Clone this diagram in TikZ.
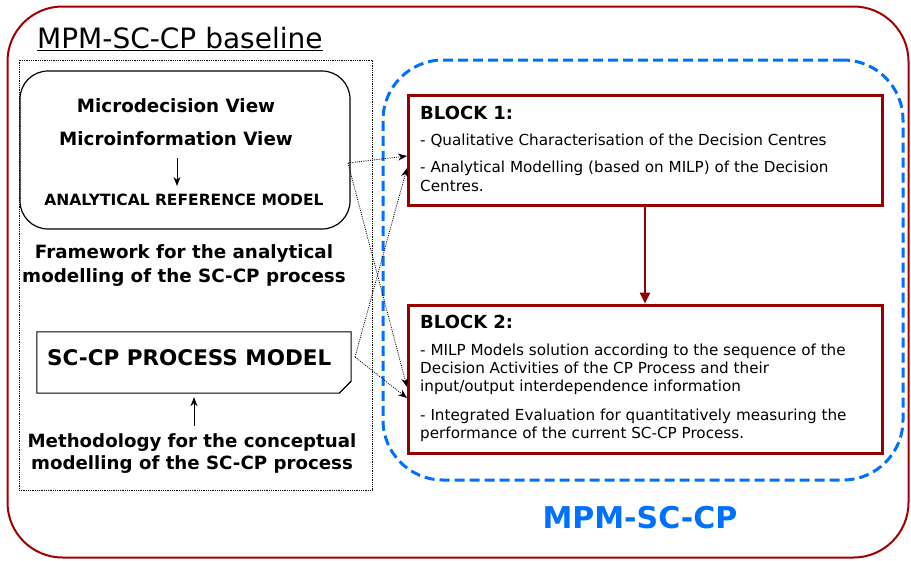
\documentclass[tikz,border=0pt]{standalone}
\usepackage{fontspec}
\setmainfont{DejaVu Sans}
\usetikzlibrary{arrows.meta, positioning}
\definecolor{framered}{RGB}{160,0,0}
\definecolor{blockred}{RGB}{150,0,0}
\definecolor{mpmblue}{RGB}{0,112,255}

\begin{document}
\begin{tikzpicture}[x=1pt, y=-1pt,
  every node/.style={inner sep=0pt},
  frame/.style={draw=framered, line width=2pt, rounded corners=55pt},
  panel/.style={draw, dash pattern=on 0.8pt off 1pt, line width=0.8pt},
  viewbox/.style={draw, line width=1.2pt, rounded corners=28pt},
  block/.style={draw=blockred, line width=3pt},
  heading/.style={font=\bfseries\fontsize{18.3}{24}\selectfont, align=center},
  blocktitle/.style={font=\bfseries\fontsize{18}{20}\selectfont, anchor=west},
  item/.style={font=\fontsize{15.2}{18}\selectfont, align=left, anchor=north west},
  arrow/.style={-{Stealth[length=9pt, width=7pt]}, line width=0.9pt},
  link/.style={-{Stealth[length=9pt, width=7pt]}, dash pattern=on 1pt off 1.2pt, line width=0.8pt},
  flow/.style={-{Triangle[length=11pt, width=10pt]}, draw=blockred, line width=2.5pt}
]
  \useasboundingbox (0,0) rectangle (911,560);

  % outer frame and left panel
  \node[frame, minimum width=901pt, minimum height=551pt] (outer) at (458,282) {};
  \node[anchor=west, font=\fontsize{28}{32}\selectfont] (title) at (37,39) {\underline{MPM-SC-CP baseline}};
  \node[panel, minimum width=353pt, minimum height=430pt] (baseline) at (195.5,275) {};

  % analytical reference model
  \node[viewbox, minimum width=330pt, minimum height=158pt] (views) at (185,150) {};
  \node[heading] (microdec) at (176,106) {Microdecision View};
  \node[heading] (microinf) at (176,139) {Microinformation View};
  \node[font=\bfseries\fontsize{15.5}{18}\selectfont] (refmodel) at (184,200) {ANALYTICAL REFERENCE MODEL};
  \draw[arrow] ([xshift=1pt, yshift=-12pt]microinf.south) -- ([xshift=1pt, yshift=8pt]microinf.south |- refmodel.north);
  \node[heading] (framework) at (184,266) {Framework for the analytical\\modelling of the SC-CP process};

  % process model (document shape)
  \node[minimum width=314pt, minimum height=61pt] (procmodel) at (194,362.5) {};
  \draw[line width=1pt] (procmodel.north west) -- (procmodel.north east) -- ([yshift=12pt]procmodel.south east)
    -- ([xshift=-12pt]procmodel.south east) -- (procmodel.south west) -- cycle;
  \draw[line width=0.7pt] ([yshift=12pt]procmodel.south east) -- ([xshift=-5pt, yshift=7pt]procmodel.south east)
    -- ([xshift=-12pt]procmodel.south east);
  \node[anchor=west, font=\bfseries\fontsize{21.5}{24}\selectfont] (proctext) at (47,358) {SC-CP PROCESS MODEL};
  \node[heading, font=\bfseries\fontsize{18.2}{22}\selectfont] (method) at (192,454) {Methodology for the conceptual\\modelling of the SC-CP process};
  \draw[arrow] ([yshift=8pt]method.north -| procmodel.south) -- ([yshift=-4pt]procmodel.south);

  % MPM-SC-CP
  \node[draw=mpmblue, line width=3pt, dash pattern=on 10pt off 5pt, rounded corners=60pt,
        minimum width=520pt, minimum height=420pt] (mpm) at (643,270) {};
  \node[font=\bfseries\fontsize{30}{34}\selectfont, text=mpmblue] (mpmlabel) at (640,518) {MPM-SC-CP};

  % block 1
  \node[block, minimum width=474pt, minimum height=110pt] (block1) at (645,150) {};
  \node[blocktitle] (b1title) at (420,113) {BLOCK 1:};
  \node[item] (b1item1) at (420,134) {- Qualitative Characterisation of the Decision Centres};
  \node[item, font=\fontsize{15.2}{19}\selectfont] (b1item2) at (420,161) {- Analytical Modelling (based on MILP) of the Decision\\Centres.};

  % block 2
  \node[block, minimum width=474pt, minimum height=148pt] (block2) at (645,379) {};
  \node[blocktitle] (b2title) at (420,322) {BLOCK 2:};
  \node[item] (b2item1) at (420,344) {- MILP Models solution according to the sequence of the\\Decision Activities of the CP Process and their\\input/output interdependence information};
  \node[item] (b2item2) at (420,409) {- Integrated Evaluation for quantitatively measuring the\\performance of the current SC-CP Process.};

  \draw[flow] (block1) -- (block2);

  % dotted links
  \coordinate (fromviews) at (348,163);
  \coordinate (fromproc) at (355,357);
  \coordinate (b1upper) at (407,156);
  \coordinate (b1lower) at (407,168);
  \coordinate (b2upper) at (407,387);
  \coordinate (b2lower) at (407,398);
  \draw[link] (fromviews) -- (b1upper);
  \draw[link] (fromviews) -- (b2upper);
  \draw[link] (fromproc) -- (b1lower);
  \draw[link] (fromproc) -- (b2lower);
\end{tikzpicture}
\end{document}
